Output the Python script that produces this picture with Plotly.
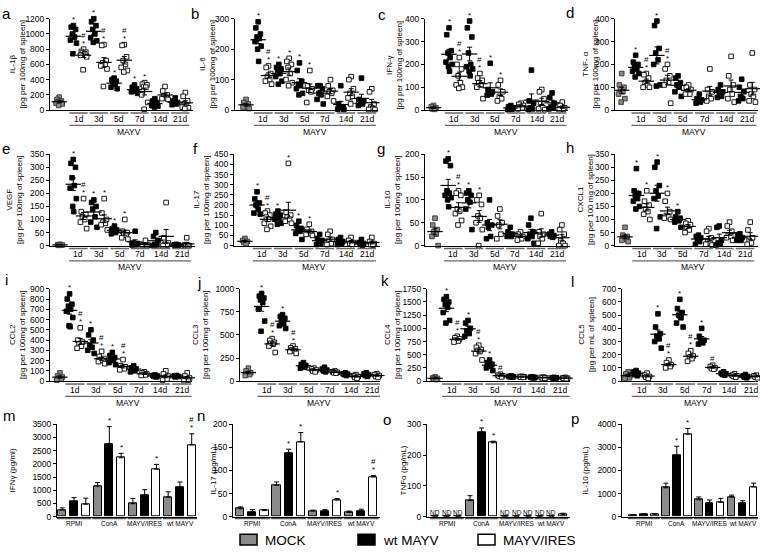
import numpy as np
import plotly.graph_objects as go

W, H = 760, 554
FONT = "Liberation Sans, Arial, sans-serif"

days = ["1d", "3d", "5d", "7d", "14d", "21d"]
conditions = ["RPMI", "ConA", "MAYV/IRES", "wt MAYV"]
legend_names = ["MOCK", "wt MAYV", "MAYV/IRES"]
# group order: MOCK, then (wt MAYV, MAYV/IRES) for each day
group_kind = ["mock"] + ["wt", "ires"] * 6

il1b = [[170, 140, 120, 110, 100, 90, 80, 60],
        [1110, 1090, 1060, 1000, 960, 920, 880, 740],
        [800, 770, 760, 750, 740, 720, 700, 530],
        [1200, 1160, 1110, 1060, 1000, 950, 910, 890],
        [860, 850, 650, 620, 600, 580, 540, 310],
        [420, 400, 380, 360, 340, 300, 280],
        [860, 850, 700, 650, 600, 560, 520, 500],
        [330, 300, 280, 260, 250, 240, 220],
        [360, 340, 330, 310, 300, 200, 100, 10],
        [150, 120, 100, 90, 80, 60, 50, 40],
        [310, 250, 200, 180, 160, 150, 140],
        [160, 120, 100, 90, 80, 70],
        [230, 180, 120, 80, 60, 40, 30, 20]]
il1b_sig = ["", "*", "#*", "*", "#*", "*", "#*", "*", "*", "", "", "", ""]

il6 = [[35, 25, 20, 15, 10, 10, 5],
       [290, 270, 250, 240, 235, 225, 210, 200, 160],
       [145, 140, 120, 110, 100, 95, 85],
       [150, 140, 135, 130, 120, 110, 95, 85],
       [170, 160, 150, 140, 120, 100, 90, 80],
       [155, 130, 95, 85, 80, 70, 55, 50],
       [130, 80, 70, 65, 60, 25],
       [80, 80, 70, 55, 50, 35, 20],
       [100, 80, 65, 60, 55, 45, 30],
       [80, 20, 10, 8, 5, 3, 2],
       [110, 100, 70, 55, 45, 40, 30, 20],
       [105, 35, 30, 25, 20, 15],
       [70, 60, 20, 10, 5, 2, 2]]
il6_sig = ["", "*", "#*", "*", "*", "*", "*", "", "", "", "", "", ""]

ifng = [[20, 15, 10, 5, 3],
        [360, 330, 260, 250, 230, 210, 200, 190, 170],
        [230, 200, 180, 150, 120, 110, 100, 95],
        [390, 360, 320, 250, 200, 190, 180, 170, 150],
        [160, 140, 130, 120, 110, 100, 50],
        [205, 90, 80, 75, 70, 65],
        [130, 110, 80, 60, 50, 40],
        [20, 15, 10, 5, 3, 2],
        [30, 25, 20, 15, 10, 5],
        [175, 40, 30, 10, 5, 2],
        [90, 80, 50, 30, 10, 5, 2],
        [75, 55, 30, 15, 10, 5],
        [35, 20, 10, 5, 3, 2]]
ifng_sig = ["", "*", "#*", "*", "#*", "*", "*", "", "", "", "", "", ""]

tnfa = [[160, 110, 100, 90, 80, 70, 50, 35],
        [240, 210, 200, 190, 180, 170, 160, 145],
        [160, 155, 140, 120, 110, 100, 100],
        [390, 370, 270, 250, 220, 200, 110, 105],
        [200, 180, 150, 130, 120, 110, 30],
        [150, 140, 120, 110, 100, 80, 60],
        [110, 100, 90, 80, 70, 70],
        [70, 50, 45, 40, 35, 30],
        [180, 90, 80, 60, 50, 40],
        [110, 90, 80, 70, 60, 55],
        [235, 150, 110, 90, 70, 50, 35],
        [135, 100, 80, 60, 50, 40],
        [250, 110, 90, 70, 60, 40, 35]]
tnfa_sig = ["", "*", "#*", "*", "#*", "", "", "", "", "", "", "", ""]

vegf = [[5, 3, 2, 1],
        [330, 315, 300, 260, 230, 220, 180, 150, 130],
        [180, 130, 120, 110, 100, 90, 65],
        [175, 165, 150, 140, 110, 90, 70],
        [180, 125, 100, 90, 85, 80, 60],
        [75, 65, 60, 55, 50, 45],
        [100, 55, 50, 45, 40, 30, 25],
        [55, 10, 8, 5, 3, 2],
        [20, 3, 2, 1, 0, 0],
        [50, 35, 20, 5, 2, 0],
        [165, 30, 10, 5, 2, 0],
        [5, 3, 2, 0, 0],
        [30, 2, 0, 0, 0]]
vegf_sig = ["", "*", "#*", "*", "*", "*", "*", "", "", "", "", "", ""]

il17 = [[35, 25, 20, 15, 10],
        [265, 230, 210, 200, 180, 160, 155],
        [170, 160, 150, 140, 130, 110, 95, 80],
        [170, 155, 150, 140, 135, 130, 110, 105],
        [405, 165, 150, 140, 130, 120, 110],
        [120, 100, 85, 80, 70, 60, 30],
        [105, 80, 70, 65, 60, 55, 50],
        [55, 35, 25, 15, 10, 5],
        [70, 55, 30, 20, 10, 5],
        [40, 30, 20, 15, 10, 5],
        [40, 25, 15, 10, 5],
        [30, 15, 10, 5, 2],
        [40, 20, 10, 5, 2]]
il17_sig = ["", "*", "#*", "*", "*", "*", "*", "", "", "", "", "", ""]

il10 = [[60, 45, 35, 30, 25, 20, 0],
        [190, 185, 175, 120, 115, 110, 105, 100, 85],
        [120, 115, 110, 80, 75, 70, 55, 45],
        [120, 115, 110, 100, 95, 80, 35],
        [110, 100, 90, 65, 60, 50, 35, 0],
        [100, 50, 45, 40, 20, 15],
        [80, 65, 50, 45, 25, 15],
        [40, 30, 25, 25, 20, 20],
        [30, 25, 20, 20, 15, 12],
        [60, 45, 30, 25, 20, 15, 5],
        [70, 30, 25, 20, 15, 5],
        [30, 25, 22, 20, 18],
        [45, 35, 25, 10, 5, 0, 0]]
il10_sig = ["", "*", "#*", "*", "*", "", "", "", "", "", "", "", ""]

cxcl1 = [[70, 40, 35, 30, 25, 20, 15],
         [295, 210, 200, 190, 180, 170, 150, 140],
         [210, 170, 155, 140, 130, 120, 100],
         [320, 300, 230, 210, 190, 180, 110, 65],
         [200, 170, 130, 115, 110, 105, 100],
         [130, 110, 105, 100, 95, 90, 70],
         [95, 85, 80, 70, 60, 50],
         [40, 35, 30, 25, 15, 5],
         [65, 55, 30, 15, 10, 5, 2],
         [75, 70, 20, 10, 5, 2],
         [90, 75, 55, 40, 35, 30, 20],
         [45, 40, 30, 25, 20, 20],
         [90, 60, 30, 20, 10, 5]]
cxcl1_sig = ["", "*", "*", "*", "*", "*", "", "", "", "", "", "", ""]

ccl2 = [[80, 50, 40, 30, 20, 10],
        [850, 800, 750, 730, 700, 680, 620, 540, 530],
        [520, 400, 380, 360, 340, 320],
        [500, 450, 400, 350, 330, 300, 270],
        [290, 240, 220, 210, 200, 190, 170],
        [280, 250, 230, 210, 200, 180, 160],
        [210, 150, 140, 130, 120, 110],
        [150, 130, 120, 110, 100, 90],
        [90, 80, 70, 65, 60, 55],
        [60, 55, 50, 45, 40],
        [100, 70, 50, 30, 20, 10],
        [55, 50, 45, 40],
        [80, 50, 30, 20, 10, 5]]
ccl2_sig = ["", "*", "#*", "*", "#*", "*", "#*", "", "", "", "", "", ""]

ccl3 = [[140, 110, 90, 80, 70, 60],
        [950, 920, 900, 880, 850, 780, 650, 540],
        [460, 440, 420, 410, 400, 380, 310],
        [720, 700, 680, 650, 620, 600, 570],
        [380, 360, 350, 340, 330, 320, 300],
        [200, 180, 170, 160, 150, 140],
        [140, 130, 120, 110, 100],
        [150, 130, 120, 110, 100],
        [110, 100, 95, 90, 85],
        [90, 80, 75, 70, 60],
        [70, 60, 50, 40, 30],
        [90, 80, 70, 60, 50],
        [80, 70, 60, 50, 40]]
ccl3_sig = ["", "*", "#*", "*", "#*", "", "", "", "", "", "", "", ""]

ccl4 = [[80, 60, 50, 40, 30],
        [1600, 1550, 1500, 1450, 1400, 1300, 1150, 1100],
        [850, 820, 800, 780, 760, 740],
        [1150, 1100, 1000, 950, 900, 850],
        [680, 640, 600, 580, 560, 520, 400],
        [400, 350, 320, 300, 280, 250, 200],
        [130, 110, 100, 90, 80],
        [100, 90, 85, 80, 75],
        [90, 85, 80, 75, 70],
        [80, 75, 70, 65, 60],
        [75, 70, 65, 60, 55],
        [70, 65, 60, 55, 50],
        [70, 60, 55, 50, 45]]
ccl4_sig = ["", "*", "#*", "*", "#*", "*", "#", "", "", "", "", "", ""]

ccl5 = [[70, 55, 45, 35, 25, 20],
        [80, 70, 60, 50, 40],
        [60, 45, 35, 30, 20],
        [510, 410, 360, 340, 320, 300, 250],
        [160, 140, 125, 115, 110, 100],
        [620, 550, 520, 500, 480, 440, 410],
        [230, 210, 190, 180, 170, 150],
        [400, 340, 310, 300, 290, 280],
        [120, 110, 100, 95, 90],
        [70, 60, 55, 50, 45],
        [55, 45, 40, 35, 30],
        [50, 40, 35, 30, 25],
        [45, 40, 35, 30, 25]]
ccl5_sig = ["", "", "", "*", "#*", "*", "#*", "*", "#", "", "", "", ""]

# bar charts: [RPMI, ConA, MAYV/IRES, wt MAYV]
ifng_mock = [250, 1160, 490, 740]
ifng_mock_err = [80, 130, 200, 200]
ifng_wt = [570, 2760, 800, 1120]
ifng_wt_err = [150, 650, 220, 190]
ifng_ires = [470, 2230, 1800, 2720]
ifng_ires_err = [230, 170, 180, 420]
ifng_bar_sig = [["", "", ""], ["", "*", "*"], ["", "", "*"], ["", "", "#*"]]

il17_mock = [17, 68, 12, 9]
il17_mock_err = [4, 7, 2, 3]
il17_wt = [10, 138, 12, 12]
il17_wt_err = [5, 8, 3, 4]
il17_ires = [13, 162, 36, 86]
il17_ires_err = [2, 20, 3, 3]
il17_bar_sig = [["", "", ""], ["", "*", "*"], ["", "", "*"], ["", "", "#*"]]

tnfa_mock = [0, 52, 0, 0]
tnfa_mock_err = [0, 16, 0, 0]
tnfa_wt = [0, 275, 0, 0]
tnfa_wt_err = [0, 13, 0, 0]
tnfa_ires = [0, 240, 0, 6]
tnfa_ires_err = [0, 5, 0, 5]
tnfa_nd = [[True, True, True], [False, False, False], [True, True, True], [True, True, False]]
tnfa_bar_sig = [["", "", ""], ["", "*", "*"], ["", "", ""], ["", "", ""]]

il10_mock = [70, 1250, 730, 850]
il10_mock_err = [20, 200, 120, 80]
il10_wt = [90, 2650, 590, 590]
il10_wt_err = [25, 400, 130, 100]
il10_ires = [100, 3570, 620, 1290]
il10_ires_err = [20, 250, 170, 160]
il10_bar_sig = [["", "", ""], ["", "*", "*"], ["", "", ""], ["", "", ""]]

COL = {"mock": "#8a8a8a", "wt": "#000000", "ires": "#ffffff"}
LCOL = {"mock": "#333333", "wt": "#000000", "ires": "#000000"}
OFFS = [0.0, -0.22, 0.22, -0.11, 0.11, -0.3, 0.3, -0.05, 0.05, 0.16]

fig = go.Figure()
layout = {}
annotations = []
shapes = []


def names(n):
    return ("x" if n == 1 else f"x{n}", "y" if n == 1 else f"y{n}",
            "xaxis" if n == 1 else f"xaxis{n}", "yaxis" if n == 1 else f"yaxis{n}")


def txt(x, y, s, size=8.5, xref="paper", yref="paper", angle=0, xanchor="center", yanchor="middle", yshift=0):
    annotations.append(dict(x=x, y=y, xref=xref, yref=yref, text=s, showarrow=False,
                            font=dict(family=FONT, size=size, color="black"), textangle=angle,
                            xanchor=xanchor, yanchor=yanchor, yshift=yshift))


def setup_axes(n, xpx, ypx, xrange, ymax, dtick):
    xr, yr, xa, ya = names(n)
    layout[xa] = dict(domain=[xpx[0] / W, xpx[1] / W], range=xrange, anchor=yr, showline=True,
                      linecolor="black", linewidth=1, showticklabels=False, ticks="",
                      showgrid=False, zeroline=False, fixedrange=True)
    layout[ya] = dict(domain=[1 - ypx[1] / H, 1 - ypx[0] / H], range=[0, ymax], anchor=xr,
                      showline=True, linecolor="black", linewidth=1, ticks="outside", ticklen=3,
                      tickwidth=1, tickcolor="black", dtick=dtick, tick0=0, showgrid=False,
                      zeroline=False, fixedrange=True,
                      tickfont=dict(family=FONT, size=8.5, color="black"))
    return xr, yr


def scatter_panel(n, data, sig, letter, ytitle, ymax, dtick, xpx, ypx, G, L, R, title_x, letter_xy):
    xr, yr = setup_axes(n, xpx, ypx, [-L, G + 11 + R], ymax, dtick)
    pos = [0] + [G + k for k in range(12)]
    for g, vals in enumerate(data):
        kind = group_kind[g]
        vs = sorted(vals, reverse=True)
        xs = [pos[g] + OFFS[i % len(OFFS)] for i in range(len(vs))]
        fig.add_trace(go.Scatter(x=xs, y=vs, xaxis=xr, yaxis=yr, mode="markers", cliponaxis=False,
                                 showlegend=False, hoverinfo="skip",
                                 marker=dict(symbol="square", size=4.6, color=COL[kind],
                                             line=dict(color=LCOL[kind], width=0.9))))
    for g, vals in enumerate(data):
        arr = np.array(vals, dtype=float)
        m = arr.mean()
        sem = arr.std(ddof=1) / np.sqrt(len(arr))
        fig.add_trace(go.Scatter(x=[pos[g]], y=[m], xaxis=xr, yaxis=yr, mode="markers",
                                 cliponaxis=False, showlegend=False, hoverinfo="skip",
                                 marker=dict(symbol="line-ew", size=11, color="black",
                                             line=dict(color="black", width=1.2)),
                                 error_y=dict(type="data", array=[sem], thickness=1, width=2.5,
                                              color="black")))
        s = sig[g]
        top = max(arr.max(), m + sem)
        if "*" in s:
            txt(pos[g], top, "*", size=8, xref=xr, yref=yr, yshift=6)
        if "#" in s:
            txt(pos[g], top, "#", size=8, xref=xr, yref=yr, yshift=14 if "*" in s else 7)
    bottom = ypx[1]
    for k in range(6):
        x0 = pos[1 + 2 * k] - 0.4
        x1 = pos[2 + 2 * k] + 0.4
        shapes.append(dict(type="line", xref=xr, yref="paper", x0=x0, x1=x1,
                           y0=1 - (bottom + 3) / H, y1=1 - (bottom + 3) / H,
                           line=dict(color="#666666", width=1.5)))
        txt((pos[1 + 2 * k] + pos[2 + 2 * k]) / 2, 1 - (bottom + 9) / H, days[k], size=8.5, xref=xr)
    shapes.append(dict(type="line", xref=xr, yref="paper", x0=pos[1] - 0.4, x1=pos[12] + 0.4,
                       y0=1 - (bottom + 15.5) / H, y1=1 - (bottom + 15.5) / H,
                       line=dict(color="#666666", width=1.2)))
    txt((pos[1] + pos[12]) / 2, 1 - (bottom + 22) / H, "MAYV", size=8.5, xref=xr)
    txt(title_x / W, 1 - ((ypx[0] + ypx[1]) / 2) / H, ytitle, size=8, angle=-90)
    txt(letter_xy[0] / W, 1 - letter_xy[1] / H, letter, size=15)


def bar_panel(n, means, errs, sigs, nd, letter, ytitle, ymax, dtick, xpx, ypx, L, R, title_x, letter_xy):
    xr, yr = setup_axes(n, xpx, ypx, [-L, 11 + R], ymax, dtick)
    for b, kind in enumerate(["mock", "wt", "ires"]):
        xs = [3 * g + b for g in range(4)]
        fig.add_trace(go.Bar(x=xs, y=means[b], xaxis=xr, yaxis=yr, width=0.68, showlegend=False,
                             hoverinfo="skip", marker=dict(color=COL[kind],
                                                           line=dict(color="black", width=1)),
                             error_y=dict(type="data", symmetric=False, array=errs[b],
                                          arrayminus=[0] * 4, thickness=1, width=2.5,
                                          color="black")))
        for g in range(4):
            s = sigs[g][b]
            top = means[b][g] + errs[b][g]
            if "*" in s:
                txt(3 * g + b, top, "*", size=8, xref=xr, yref=yr, yshift=6)
            if "#" in s:
                txt(3 * g + b, top, "#", size=8, xref=xr, yref=yr, yshift=14)
            if nd is not None and nd[g][b]:
                txt(3 * g + b, 0, "ND", size=6.5, xref=xr, yref=yr, yshift=4)
    bottom = ypx[1]
    for g in range(4):
        shapes.append(dict(type="line", xref=xr, yref="paper", x0=3 * g - 0.45, x1=3 * g + 2.45,
                           y0=1 - (bottom + 2) / H, y1=1 - (bottom + 2) / H,
                           line=dict(color="#555555", width=1.3)))
        txt(3 * g + 1, 1 - (bottom + 7.5) / H, conditions[g], size=6.5, xref=xr)
    txt(title_x / W, 1 - ((ypx[0] + ypx[1]) / 2) / H, ytitle, size=8, angle=-90)
    txt(letter_xy[0] / W, 1 - letter_xy[1] / H, letter, size=15)


R1, R2, R3, R4 = (14, 107), (152, 245), (289, 383), (427, 521)

scatter_panel(1, il1b, il1b_sig, "a", "IL-1β<br>[pg per 100mg of spleen]", 1200, 200, (50, 193), R1, 1.4, 0.9, 0.75, 17, (6, 9))
scatter_panel(2, il6, il6_sig, "b", "IL-6<br>[pg per 100mg of spleen]", 300, 100, (235, 378), R1, 1.17, 1.07, 0.6, 207, (195, 9))
scatter_panel(3, ifng, ifng_sig, "c", "IFN-γ<br>[pg per 100mg of spleen]", 400, 100, (425, 568), R1, 1.5, 0.83, 0.55, 394, (382, 10))
scatter_panel(4, tnfa, tnfa_sig, "d", "TNF- α<br>[pg per 100mg of spleen]", 400, 100, (615, 758), R1, 1.32, 0.63, 0.54, 590, (570, 8))
scatter_panel(5, vegf, vegf_sig, "e", "VEGF<br>[pg per 100mg of spleen]", 350, 50, (50, 195), R2, 1.28, 0.97, 0.8, 15, (6, 146))
scatter_panel(6, il17, il17_sig, "f", "IL-17<br>[pg per 100mg of spleen]", 450, 50, (234, 380), R2, 1.16, 1.05, 0.78, 202, (195, 146))
scatter_panel(7, il10, il10_sig, "g", "IL-10<br>[pg per 100mg of spleen]", 200, 50, (425, 570), R2, 1.27, 0.97, 0.78, 393, (381, 146))
scatter_panel(8, cxcl1, cxcl1_sig, "h", "CXCL1<br>[pg per 100 mg of spleen]", 350, 50, (615, 758), R2, 1.1, 0.97, 0.75, 586, (570, 145))
scatter_panel(9, ccl2, ccl2_sig, "i", "CCL2<br>[pg per 100mg of spleen]", 900, 100, (50, 192), R3, 0.9, 0.93, 0.45, 18, (6, 280))
scatter_panel(10, ccl3, ccl3_sig, "j", "CCL3<br>[pg per 100mg of spleen]", 1000, 250, (240, 380), R3, 1.26, 0.8, 0.3, 201, (199, 283))
scatter_panel(11, ccl4, ccl4_sig, "k", "CCL4<br>[pg per 100mg of spleen]", 1750, 250, (427, 570), R3, 1.05, 0.75, 0.45, 393, (385, 281))
scatter_panel(12, ccl5, ccl5_sig, "l", "CCL5<br>[pg per mL of spleen]", 700, 100, (622, 758), R3, 0.72, 0.57, 0.15, 587, (572, 282))

bar_panel(13, [ifng_mock, ifng_wt, ifng_ires], [ifng_mock_err, ifng_wt_err, ifng_ires_err], ifng_bar_sig, None,
          "m", "IFNγ (pg/ml)", 3500, 500, (57, 197), R4, 0.45, 0.45, 12, (9, 418))
bar_panel(14, [il17_mock, il17_wt, il17_ires], [il17_mock_err, il17_wt_err, il17_ires_err], il17_bar_sig, None,
          "n", "IL-17 (pg/mL)", 200, 50, (233, 380), R4, 0.6, 0.55, 213, (201, 418))
bar_panel(15, [tnfa_mock, tnfa_wt, tnfa_ires], [tnfa_mock_err, tnfa_wt_err, tnfa_ires_err], tnfa_bar_sig, tnfa_nd,
          "o", "TNFα (pg/mL)", 300, 100, (427, 570), R4, 0.7, 0.6, 403, (387, 422))
bar_panel(16, [il10_mock, il10_wt, il10_ires], [il10_mock_err, il10_wt_err, il10_ires_err], il10_bar_sig, None,
          "p", "IL-10 (pg/mL)", 4000, 1000, (622, 758), R4, 1.0, 0.4, 585, (575, 421))

# legend
leg = [(240, "mock"), (358, "wt"), (478, "ires")]
for (x0, kind), name in zip(leg, legend_names):
    shapes.append(dict(type="rect", xref="paper", yref="paper", x0=x0 / W, x1=(x0 + 17) / W,
                       y0=1 - 550 / H, y1=1 - 539 / H, fillcolor=COL[kind],
                       line=dict(color="black", width=1.5)))
    txt((x0 + 23) / W, 1 - 545 / H, name, size=13.5, xanchor="left")

layout.update(dict(width=W, height=H, margin=dict(l=0, r=0, t=0, b=0),
                   paper_bgcolor="white", plot_bgcolor="white", showlegend=False,
                   annotations=annotations, shapes=shapes, bargap=0,
                   font=dict(family=FONT, color="black")))
fig.update_layout(**layout)
fig.write_html("out.html", config={"displayModeBar": False},
               post_script="document.body.style.margin='0px';document.body.style.overflow='hidden';")
